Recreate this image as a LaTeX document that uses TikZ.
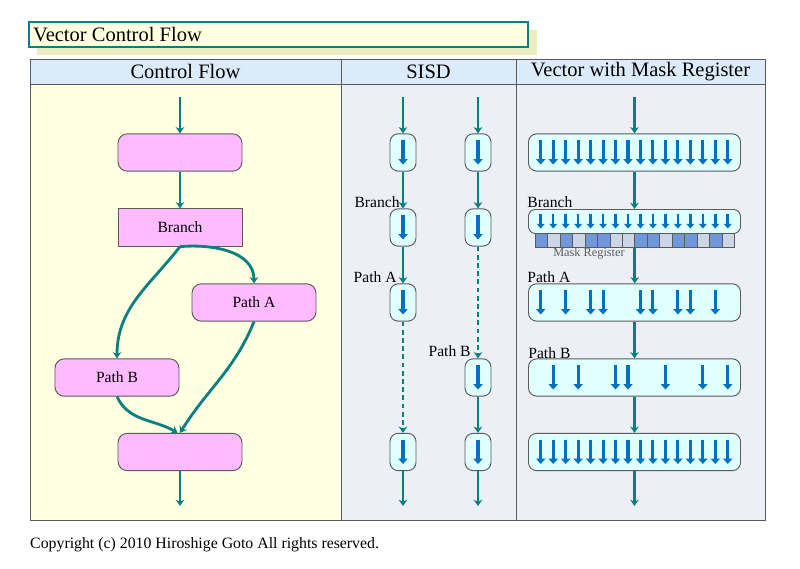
\documentclass[tikz,border=0pt]{standalone}
\usepackage{fontspec}
\setmainfont{Liberation Serif}
\usetikzlibrary{arrows.meta,positioning,calc}
\definecolor{Teal}{HTML}{0B7F7F}
\definecolor{Lane}{HTML}{0070C0}
\definecolor{Pink}{HTML}{FFBBFF}
\definecolor{Ice}{HTML}{E0FFFF}
\definecolor{Cream}{HTML}{FFFFE1}
\definecolor{Shade}{HTML}{EFEBC0}
\definecolor{Head}{HTML}{DCEBFA}
\definecolor{Pane}{HTML}{ECEFF5}
\definecolor{Edge}{HTML}{5A5A5A}
\definecolor{MaskOn}{HTML}{6F97D9}
\definecolor{MaskOff}{HTML}{CCD6E4}
\tikzset{
  cfbox/.style={rounded corners=8pt,draw=Edge,fill=Pink,line width=.8pt,minimum width=3.72cm,
    minimum height=1.12cm,font=\rmfamily\fontsize{13.3}{15}\selectfont},
  unit/.style={rounded corners=7pt,draw=Edge,fill=Ice,line width=.8pt,minimum width=.78cm,
    minimum height=1.12cm},
  wide/.style={unit,minimum width=6.36cm},
  mask/.style={draw=Edge,line width=.4pt,minimum width=.374cm,minimum height=.42cm,inner sep=0pt,outer sep=0pt},
  flow/.style={-{Stealth[length=1.9mm,width=2.6mm]},draw=Teal,line width=2.4pt},
  lane/.style={-{Triangle[length=1.6mm,width=2.7mm]},draw=Lane,line width=2.6pt},
  lbl/.style={font=\rmfamily\fontsize{13.3}{15}\selectfont,inner sep=1pt},
  head/.style={font=\rmfamily\fontsize{17.5}{20}\selectfont,inner sep=0pt}
}
\begin{document}
\begin{tikzpicture}[x=0.03cm,y=-0.03cm]
  \useasboundingbox (0,0) rectangle (800,569);
  % title
  \fill[Shade] (37,30) rectangle (537,55);
  \draw[Teal,line width=1.8pt,fill=Cream] (29,22) rectangle (528,47);
  \node[head,anchor=west] (title) at (33,35) {Vector Control Flow};

  % table
  \fill[Cream] (30,84) rectangle (341,520);
  \fill[Pane] (341,84) rectangle (765,520);
  \fill[Head] (30,59) rectangle (765,84);
  \draw[Edge,line width=.8pt] (30,59) rectangle (765,520);
  \draw[Edge,line width=.8pt] (30,84) -- (765,84) (341,59) -- (341,520) (516,59) -- (516,520);
  \node[head] (hcf) at (185.5,71.5) {Control Flow};
  \node[head] (hsisd) at (428.5,71.5) {SISD};
  \node[head] (hvec) at (640.5,71.5) {Vector with Mask Register};

  % control flow
  \coordinate (cfin) at (180,97);
  \node[cfbox] (cf1) at (180,152.5) {};
  \node[cfbox,sharp corners] (cfbr) at (180,227.5) {Branch};
  \node[cfbox] (cfa) at (254,302.5) {Path A};
  \node[cfbox] (cfb) at (117,377.5) {Path B};
  \node[cfbox] (cfm) at (180,452) {};
  \coordinate (cfout) at (180,506);
  \draw[flow] (cfin) -- (cf1);
  \draw[flow] (cf1) -- (cfbr);
  \draw[flow] (cfbr.south) to[out=5,in=90] (cfa.north);
  \draw[flow] (cfbr.south) to[out=-128,in=90] (cfb.north);
  \draw[flow] (cfb.south) to[out=-65,in=150] ([xshift=-2]cfm.north);
  \draw[flow] (cfa.south) to[out=-112,in=58] (cfm.north);
  \draw[flow] (cfm) -- (cfout);

  % SISD
  \coordinate (s1in) at (403,97);
  \coordinate (s2in) at (478,97);
  \node[unit] (s1a) at (403,152.5) {};
  \node[unit] (s1b) at (403,227.5) {};
  \node[unit] (s1c) at (403,302.5) {};
  \node[unit] (s1e) at (403,452) {};
  \node[unit] (s2a) at (478,152.5) {};
  \node[unit] (s2b) at (478,227.5) {};
  \node[unit] (s2d) at (478,377.5) {};
  \node[unit] (s2e) at (478,452) {};
  \coordinate (s1out) at (403,506);
  \coordinate (s2out) at (478,506);
  \foreach \s in {s1a,s1b,s1c,s1e,s2a,s2b,s2d,s2e}
    \draw[lane] ($(\s.center)+(0,-12)$) -- ($(\s.center)+(0,12)$);
  \draw[flow] (s1in) -- (s1a);
  \draw[flow] (s1a) -- (s1b);
  \draw[flow] (s1b) -- (s1c);
  \draw[flow,dash pattern=on 4pt off 3pt] (s1c) -- (s1e);
  \draw[flow] (s1e) -- (s1out);
  \draw[flow] (s2in) -- (s2a);
  \draw[flow] (s2a) -- (s2b);
  \draw[flow,dash pattern=on 4pt off 3pt] (s2b) -- (s2d);
  \draw[flow] (s2d) -- (s2e);
  \draw[flow] (s2e) -- (s2out);
  \node[lbl,anchor=east] (sbr) at (401,202) {Branch};
  \node[lbl,anchor=east] (spa) at (398,277) {Path A};
  \node[lbl,anchor=east] (spb) at (472,351) {Path B};

  % vector with mask register
  \coordinate (vin) at (634.5,97);
  \node[wide] (v1) at (634.5,152.5) {};
  \node[wide,minimum height=.72cm,rounded corners=6pt] (vbr) at (634.5,221.5) {};
  \node[wide] (v3) at (634.5,302.5) {};
  \node[wide] (v4) at (634.5,377.5) {};
  \node[wide] (v5) at (634.5,452) {};
  \coordinate (vout) at (634.5,506);
  \foreach \i/\c in {0/MaskOn,1/MaskOff,2/MaskOn,3/MaskOff,4/MaskOn,5/MaskOn,6/MaskOff,7/MaskOff,
      8/MaskOn,9/MaskOn,10/MaskOff,11/MaskOn,12/MaskOn,13/MaskOff,14/MaskOn,15/MaskOff}
    \node[mask,fill=\c] (m\i) at ({541.2+12.47*\i},240.5) {};
  \node[font=\rmfamily\fontsize{10.5}{12}\selectfont,text=Edge,inner sep=0pt] (mreg) at (589,253.5) {Mask Register};
  \foreach \i in {0,...,15} {
    \draw[lane] ($(v1.west)+({12.7+12.47*\i},-12)$) -- ($(v1.west)+({12.7+12.47*\i},12)$);
    \draw[lane,line width=2.2pt,-{Triangle[length=1.4mm,width=2.3mm]}]
      ($(vbr.west)+({12.7+12.47*\i},-7)$) -- ($(vbr.west)+({12.7+12.47*\i},7)$);
    \draw[lane] ($(v5.west)+({12.7+12.47*\i},-12)$) -- ($(v5.west)+({12.7+12.47*\i},12)$);
  }
  \foreach \i in {0,2,4,5,8,9,11,12,14}
    \draw[lane] ($(v3.west)+({12.7+12.47*\i},-12)$) -- ($(v3.west)+({12.7+12.47*\i},12)$);
  \foreach \i in {1,3,6,7,10,13,15}
    \draw[lane] ($(v4.west)+({12.7+12.47*\i},-12)$) -- ($(v4.west)+({12.7+12.47*\i},12)$);
  \draw[flow] (vin) -- (v1);
  \draw[flow] (v1) -- (vbr);
  \draw[flow] (m7.south east) -- (m7.south east |- v3.north);
  \draw[flow] (v3) -- (v4);
  \draw[flow] (v4) -- (v5);
  \draw[flow] (v5) -- (vout);
  \node[lbl,anchor=west] (vbrl) at (526,202) {Branch};
  \node[lbl,anchor=west] (vpa) at (526,277) {Path A};
  \node[lbl,anchor=west] (vpb) at (527,353) {Path B};

  % footer
  \node[anchor=west,inner sep=0pt,font=\rmfamily\fontsize{13.5}{16}\selectfont] (copy) at (30,545)
    {Copyright (c) 2010 Hiroshige Goto All rights reserved.};
\end{tikzpicture}
\end{document}
